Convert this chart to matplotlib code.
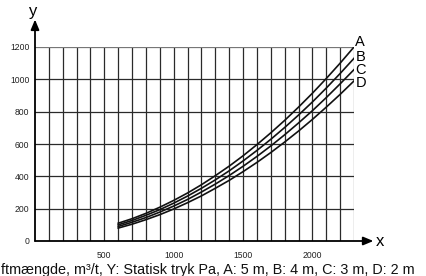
import matplotlib.pyplot as plt

plt.rcParams["font.family"] = ["Liberation Sans", "DejaVu Sans"]

# air flow (m3/h) vs static pressure (Pa) for four duct lengths
flow = [600, 700, 800, 900, 1000, 1100, 1200, 1300, 1400, 1500,
        1600, 1700, 1800, 1900, 2000, 2100, 2200, 2300]
curve_a = [110, 138, 171, 209, 251, 297, 348, 404, 463, 527,
           596, 669, 746, 828, 914, 1005, 1100, 1200]
curve_b = [100, 127, 159, 194, 234, 278, 326, 378, 434, 495,
           560, 629, 702, 779, 860, 946, 1036, 1130]
curve_c = [90, 116, 145, 179, 216, 257, 303, 352, 405, 462,
           523, 588, 657, 730, 806, 887, 972, 1060]
curve_d = [80, 104, 132, 163, 198, 237, 279, 326, 375, 429,
           486, 547, 612, 680, 752, 828, 907, 990]
curve_names = ["A", "B", "C", "D"]
label_y = [1228, 1137, 1059, 976]

x_ticks = [500, 1000, 1500, 2000]
y_ticks = [0, 200, 400, 600, 800, 1000, 1200]
caption = "ftmængde, m³/t, Y: Statisk tryk Pa, A: 5 m, B: 4 m, C: 3 m, D: 2 m"

W, H = 427, 276
fig = plt.figure(figsize=(W / 100, H / 100), dpi=100)
ax = fig.add_axes([35 / W, (H - 241) / H, (354 - 35) / W, (241 - 47) / H])
ax.set_xlim(0, 2300)
ax.set_ylim(0, 1200)
for s in ax.spines.values():
    s.set_visible(False)

# grid
for gx in range(100, 2301, 100):
    ax.axvline(gx, color="#2a2a2a" if gx < 2300 else "#777777", lw=0.9, zorder=1)
for gy in range(200, 1201, 200):
    ax.axhline(gy, color="#2a2a2a" if gy < 1200 else "#777777", lw=0.9, zorder=1)

# axes with arrows
arrow = dict(arrowstyle="-|>,head_length=0.6,head_width=0.25", color="black", lw=1.3,
             shrinkA=0, shrinkB=0)
ax.annotate("", xy=(0, 1370), xytext=(0, 0), arrowprops=arrow, annotation_clip=False)
ax.annotate("", xy=(2440, 0), xytext=(0, 0), arrowprops=arrow, annotation_clip=False)
ax.text(-14, 1420, "y", fontsize=12, ha="center", va="center", clip_on=False)
ax.text(2490, -5, "x", fontsize=12, ha="center", va="center", clip_on=False)

for ys, name, ly in zip([curve_a, curve_b, curve_c, curve_d], curve_names, label_y):
    ax.plot(flow, ys, color="#111111", lw=1.2, zorder=3)
    ax.text(2310, ly, name, fontsize=10.5, ha="left", va="center", clip_on=False)

ax.set_xticks(x_ticks)
ax.set_xticklabels([str(v) for v in x_ticks])
ax.set_yticks(y_ticks)
ax.set_yticklabels([str(v) for v in y_ticks])
ax.tick_params(length=0, labelsize=6.2, colors="#222222")
ax.tick_params(axis="x", pad=7)
ax.tick_params(axis="y", pad=4)

fig.text(1 / W, 6 / H, caption, fontsize=10.4, ha="left", va="center", color="#111111")

fig.savefig("out.png", dpi=100)
